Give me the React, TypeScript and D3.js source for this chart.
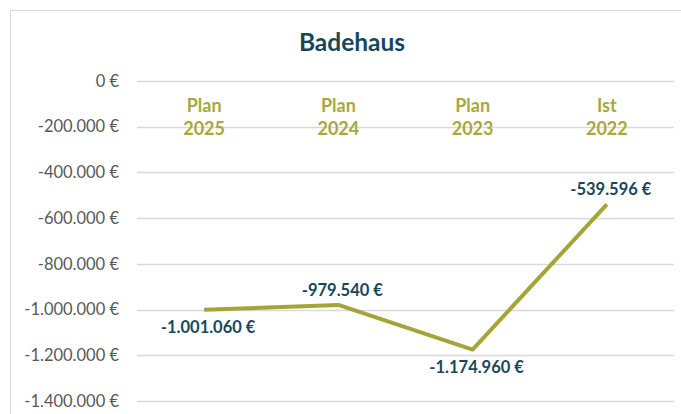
import { useEffect, useRef } from "react";
import * as d3 from "d3";

const categories = ["Plan\n2025", "Plan\n2024", "Plan\n2023", "Ist\n2022"];
const values = [-1001060, -979540, -1174960, -539596];
const labelAbove = [false, true, false, true];
const yTicks = [0, -200000, -400000, -600000, -800000, -1000000, -1200000, -1400000];

const de = d3.formatLocale({
  decimal: ",",
  thousands: ".",
  grouping: [3],
  currency: ["", " €"],
  minus: "-",
});
const fmt = de.format(",.0f");

export default function App() {
  const ref = useRef<SVGSVGElement | null>(null);

  useEffect(() => {
    if (!ref.current) return;
    const svg = d3.select(ref.current);
    svg.selectAll("*").remove();

    const width = 681;
    const height = 414;
    const left = 137;
    const right = 674;

    const x = d3.scalePoint<string>().domain(categories).range([left, right]).padding(0.5);
    const y = d3.scaleLinear().domain([-1400000, 0]).range([401, 81]);

    svg
      .append("rect")
      .attr("x", 10.5)
      .attr("y", 10.5)
      .attr("width", width)
      .attr("height", height)
      .attr("fill", "#fff")
      .attr("stroke", "#d9d9d9");

    svg
      .append("text")
      .attr("x", 352)
      .attr("y", 51)
      .attr("text-anchor", "middle")
      .attr("font-family", "Lato, sans-serif")
      .attr("font-weight", "bold")
      .attr("font-size", 24.5)
      .attr("fill", "#17485a")
      .text("Badehaus");

    // gridlines + y labels
    const grid = svg.append("g");
    grid
      .selectAll("line")
      .data(yTicks)
      .join("line")
      .attr("x1", left)
      .attr("x2", right)
      .attr("y1", (d) => Math.round(y(d)) + 0.5)
      .attr("y2", (d) => Math.round(y(d)) + 0.5)
      .attr("stroke", "#d9d9d9")
      .attr("stroke-width", 1.5);

    grid
      .selectAll("text")
      .data(yTicks)
      .join("text")
      .attr("x", 119)
      .attr("y", (d) => y(d))
      .attr("dy", "0.35em")
      .attr("text-anchor", "end")
      .attr("font-family", "Lato, sans-serif")
      .attr("font-size", 16.5)
      .attr("fill", "#595959")
      .text((d) => fmt(d) + " €");

    // category labels
    const cat = svg
      .append("g")
      .selectAll("text")
      .data(categories)
      .join("text")
      .attr("text-anchor", "middle")
      .attr("font-family", "Lato, sans-serif")
      .attr("font-weight", "bold")
      .attr("font-size", 18)
      .attr("fill", "#a8a83c");
    cat
      .selectAll("tspan")
      .data((d) => d.split("\n").map((t, i) => ({ t, i, c: d })))
      .join("tspan")
      .attr("x", (d) => x(d.c)!)
      .attr("y", (d) => 112 + d.i * 23)
      .text((d) => d.t);

    const line = d3
      .line<number>()
      .x((_, i) => x(categories[i])!)
      .y((d) => y(d));

    svg
      .append("path")
      .datum(values)
      .attr("fill", "none")
      .attr("stroke", "#a5a536")
      .attr("stroke-width", 4)
      .attr("stroke-linejoin", "round")
      .attr("d", line);

    svg
      .append("g")
      .selectAll("text")
      .data(values)
      .join("text")
      .attr("x", (_, i) => x(categories[i])! + 4)
      .attr("y", (d, i) => y(d) + (labelAbove[i] ? -9 : 23))
      .attr("text-anchor", "middle")
      .attr("font-family", "Lato, sans-serif")
      .attr("font-weight", "bold")
      .attr("font-size", 16.5)
      .attr("fill", "#17485a")
      .text((d) => fmt(d) + " €");
  }, []);

  return (
    <svg
      ref={ref}
      width={681}
      height={414}
      style={{ position: "absolute", left: 0, top: 0, display: "block" }}
    />
  );
}
